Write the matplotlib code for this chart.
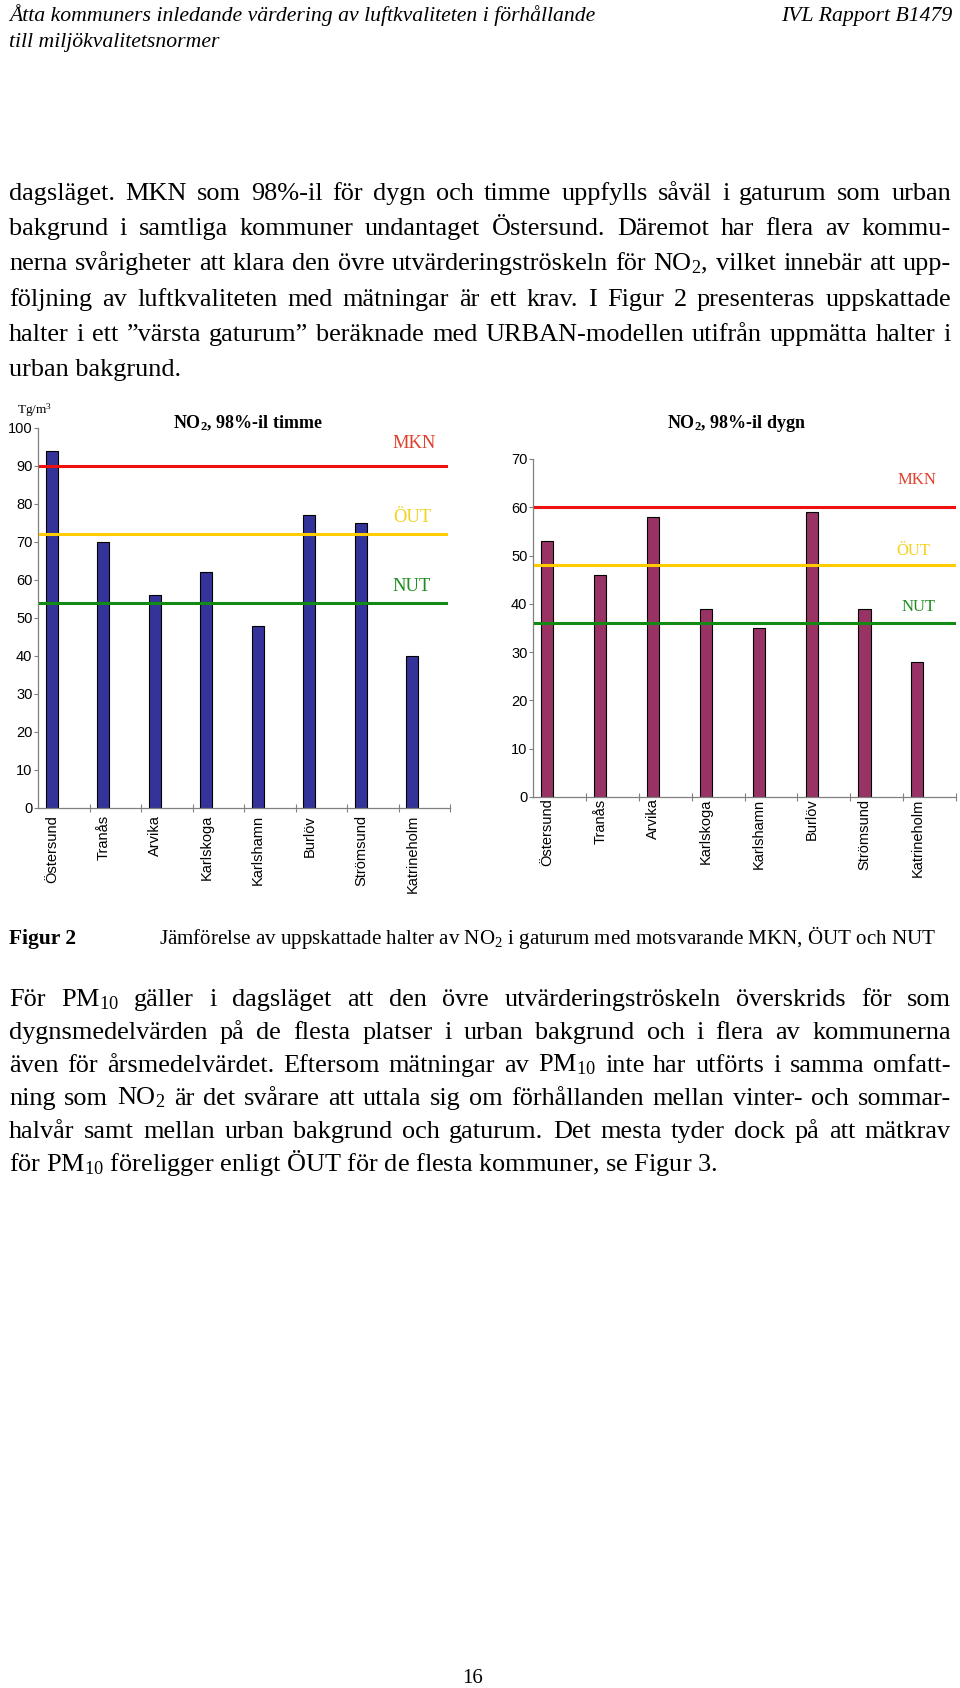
import numpy as np
import matplotlib
matplotlib.use('Agg')
import matplotlib.pyplot as plt
import matplotlib.transforms as mtransforms

plt.rcParams['font.family'] = 'Liberation Serif'
plt.rcParams['mathtext.fontset'] = 'custom'
plt.rcParams['mathtext.rm'] = 'Liberation Serif'
plt.rcParams['mathtext.it'] = 'Liberation Serif:italic'
plt.rcParams['mathtext.bf'] = 'Liberation Serif:bold'

# Data
kommuner = ['Östersund', 'Tranås', 'Arvika', 'Karlskoga', 'Karlshamn',
            'Burlöv', 'Strömsund', 'Katrineholm']
timme = [94, 70, 56, 62, 48, 77, 75, 40]
dygn = [53, 46, 58, 39, 35, 59, 39, 28]
granser_timme = {'MKN': 90, 'ÖUT': 72, 'NUT': 54}
granser_dygn = {'MKN': 60, 'ÖUT': 48, 'NUT': 36}

header_1 = 'Åtta kommuners inledande värdering av luftkvaliteten i förhållande'
header_2 = 'till miljökvalitetsnormer'
header_right = 'IVL Rapport B1479'

stycke_1 = [
    'dagsläget. MKN som 98%-il för dygn och timme uppfylls såväl i gaturum som urban',
    'bakgrund i samtliga kommuner undantaget Östersund. Däremot har flera av kommu-',
    'nerna svårigheter att klara den övre utvärderingströskeln för NO$_2$, vilket innebär att upp-',
    'följning av luftkvaliteten med mätningar är ett krav. I Figur 2 presenteras uppskattade',
    'halter i ett ”värsta gaturum” beräknade med URBAN-modellen utifrån uppmätta halter i',
    'urban bakgrund.',
]
stycke_2 = [
    'För PM$_{10}$ gäller i dagsläget att den övre utvärderingströskeln överskrids för som',
    'dygnsmedelvärden på de flesta platser i urban bakgrund och i flera av kommunerna',
    'även för årsmedelvärdet. Eftersom mätningar av PM$_{10}$ inte har utförts i samma omfatt-',
    'ning som NO$_2$ är det svårare att uttala sig om förhållanden mellan vinter- och sommar-',
    'halvår samt mellan urban bakgrund och gaturum. Det mesta tyder dock på att mätkrav',
    'för PM$_{10}$ föreligger enligt ÖUT för de flesta kommuner, se Figur 3.',
]
caption = 'Jämförelse av uppskattade halter av NO$_2$ i gaturum med motsvarande MKN, ÖUT och NUT'

W, H = 960, 1688
fig = plt.figure(figsize=(W / 100, H / 100), dpi=100)
renderer = fig.canvas.get_renderer()
# pixel coordinates, origin top-left
px = mtransforms.Affine2D().scale(1, -1).translate(0, H)


def txt(x, y, s, **kw):
    return fig.text(x, y, s, transform=px, **kw)


def width(t):
    return t.get_window_extent(renderer).width


def fit(t, target):
    fs = t.get_fontsize()
    t.set_fontsize(fs * target / width(t))


def justified(line, y, x0, x1, fs, last=False):
    if last:
        txt(x0, y, line, fontsize=fs, va='baseline')
        return
    words = line.split(' ')
    while True:
        ts = [txt(0, y, w, fontsize=fs, va='baseline') for w in words]
        ws = [width(t) for t in ts]
        gap = (x1 - x0 - sum(ws)) / (len(words) - 1)
        if gap >= fs * 0.18:
            break
        for t in ts:
            t.remove()
        fs -= 0.2
    x = x0
    for t, w in zip(ts, ws):
        t.set_x(x)
        x += w + gap


# sidhuvud
t = txt(9, 21, header_1, style='italic', fontsize=15, va='baseline')
fit(t, 588)
txt(9, 47, header_2, style='italic', fontsize=t.get_fontsize(), va='baseline')
txt(952, 21, header_right, style='italic', fontsize=t.get_fontsize(),
    va='baseline', ha='right')

# brödtext
for i, line in enumerate(stycke_1):
    justified(line, 200 + 35.2 * i, 9, 951, 18.9, last=(i == len(stycke_1) - 1))
for i, line in enumerate(stycke_2):
    justified(line, 1006 + 32.9 * i, 9, 951, 18.9, last=(i == len(stycke_2) - 1))

txt(9, 944, 'Figur 2', fontsize=15.5, weight='bold', va='baseline')
c = txt(159, 944, caption, fontsize=15.5, va='baseline')
fit(c, 777)
txt(473, 1683, '16', fontsize=15, ha='center', va='baseline')

txt(17, 414, 'Tg/m$^3$', fontsize=9.5, va='baseline')


def chart(rect, values, limit, ymax, yticks, color, granser, label_pos, label_fs, label_pad):
    ax = fig.add_axes(rect)
    x = np.arange(len(values)) + 0.27
    ax.bar(x, values, width=0.23, color=color, edgecolor='black', linewidth=0.8, zorder=2)
    line_colors = {'MKN': '#f01010', 'ÖUT': '#ffcc00', 'NUT': '#138a13'}
    text_colors = {'MKN': '#e0402c', 'ÖUT': '#f2d21e', 'NUT': '#1e8c1e'}
    for k, v in granser.items():
        ax.axhline(v, xmin=0.005, xmax=limit, color=line_colors[k], lw=2.2, zorder=3)
        lx, ly = label_pos[k]
        ax.text(lx, ly, k, color=text_colors[k], fontsize=label_fs, ha='center', va='center')
    ax.set_xlim(0, len(values))
    ax.set_ylim(0, ymax)
    ax.set_yticks(yticks)
    ax.set_yticklabels([str(v) for v in yticks], family='Liberation Sans', fontsize=10.5)
    ax.set_xticks(np.arange(1, len(values) + 1))
    ax.set_xticklabels([])
    ax.set_xticks(x, minor=True)
    ax.set_xticklabels(kommuner, minor=True, rotation=90, family='Liberation Sans', fontsize=10.5)
    ax.tick_params(axis='x', which='minor', length=0, pad=label_pad)
    ax.tick_params(axis='x', which='major', direction='inout', length=6, color='#808080')
    ax.tick_params(axis='y', length=3, color='#808080', pad=1)
    for s in ['top', 'right']:
        ax.spines[s].set_visible(False)
    for s in ['left', 'bottom']:
        ax.spines[s].set_color('#808080')
        ax.spines[s].set_linewidth(0.9)
    ax.patch.set_visible(False)
    return ax


# vänster: timme, axel 38..450 px, y 0 vid 808 px, 100 vid 428 px
chart([38 / W, (H - 808) / H, 412 / W, 380 / H], timme, 0.99, 100,
      list(range(0, 101, 10)), '#333399', granser_timme,
      {'MKN': (7.3, 96), 'ÖUT': (7.26, 76.5), 'NUT': (7.26, 58.3)}, 13.3, 5)
txt(248, 428, 'NO$_\\mathbf{2}$, 98%-il timme', fontsize=13, weight='bold',
    ha='center', va='baseline')

# höger: dygn, axel 533..956 px, y 0 vid 797 px, 70 vid 459 px
chart([533 / W, (H - 797) / H, 423 / W, 338 / H], dygn, 1.0, 70,
      list(range(0, 71, 10)), '#993366', granser_dygn,
      {'MKN': (7.26, 65.6), 'ÖUT': (7.2, 51), 'NUT': (7.3, 39.3)}, 12, 1)
txt(737, 428, 'NO$_\\mathbf{2}$, 98%-il dygn', fontsize=13, weight='bold',
    ha='center', va='baseline')

fig.savefig('out.png', dpi=100)
